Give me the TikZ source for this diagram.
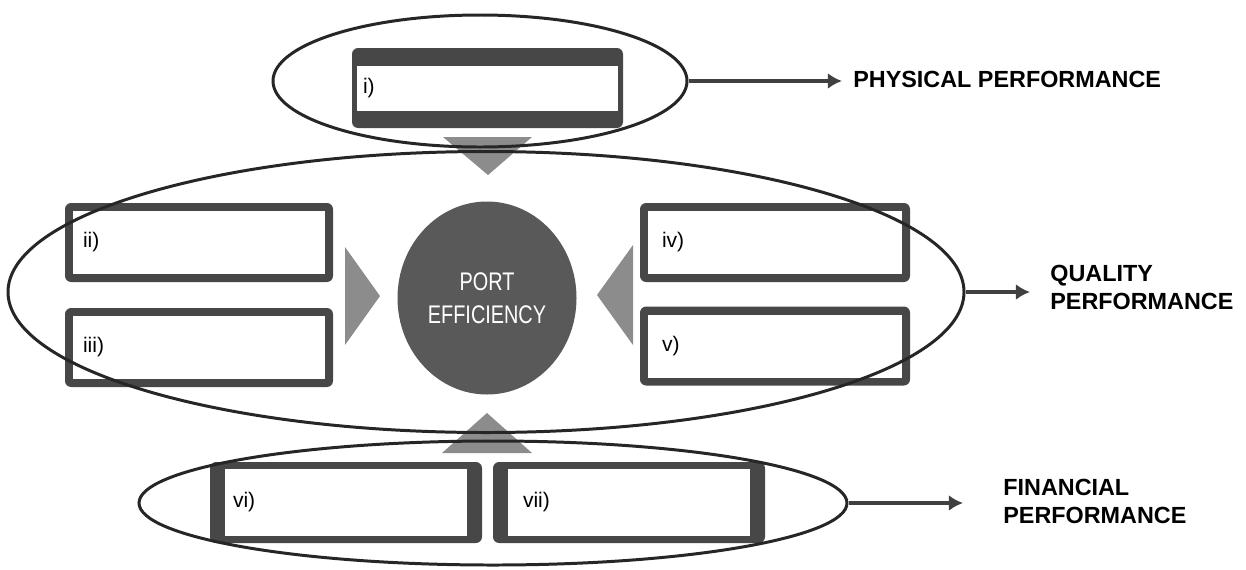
\documentclass[tikz,border=0pt]{standalone}
\usepackage{fontspec}
\setmainfont{Liberation Sans}
\newfontfamily\etroite[FakeStretch=0.78]{Liberation Sans}
\usetikzlibrary{shapes.geometric,arrows.meta}
\begin{document}
\begin{tikzpicture}[x=0.02cm,y=-0.02cm]
% Styles
\tikzstyle{contour}=[draw=black!85,line width=1.7pt,ellipse,inner sep=0pt]
\tikzstyle{fleche}=[-{Latex[length=8pt,width=9pt]},line width=1.8pt,black!75]
\tikzstyle{cadre}=[fill=black!72,rounded corners=3.5pt,inner sep=0pt]
\tikzstyle{blanc}=[fill=white,inner sep=0pt]
\tikzstyle{num}=[anchor=west,inner sep=0pt,font=\fontsize{12}{14}\selectfont]
\tikzstyle{titre}=[anchor=west,inner sep=0pt,align=left,font=\bfseries\fontsize{13.3}{16}\selectfont]
\tikzstyle{pointe}=[fill=black!45]
% Cadre de l'image
\useasboundingbox (0,0) rectangle (1246,569);
% Boite : nom, x, y, largeur, hauteur, bord x, bord y, decalage, texte
\def\boite#1#2#3#4#5#6#7#8#9{
\node[cadre,minimum width=#4*0.02cm,minimum height=#5*0.02cm] (#1c) at (#2,#3) {};
\node[blanc,minimum width=(#4-2*#6)*0.02cm,minimum height=(#5-2*#7)*0.02cm] (#1) at (#2,#3) {};
\node[num] (#1t) at ([xshift=#8*0.02cm]#1.west) {#9};
}
% Ligne du haut : i)
\boite{i}{487.5}{88}{271}{80}{5}{17.5}{6}{i)}
% Ligne du milieu : ii) a v)
\boite{ii}{199}{242.5}{268}{79}{8}{8}{10}{ii)}
\boite{iii}{199}{347.5}{268}{79}{8}{8}{10}{iii)}
\boite{iv}{775}{242.5}{270}{79}{8}{8}{14}{iv)}
\boite{v}{775}{346}{270}{79}{8}{8}{14}{v)}
% Ligne du bas : vi) et vii)
\boite{vi}{346}{502.5}{272}{81}{15}{7}{8}{vi)}
\boite{vii}{629}{502.5}{272}{81}{15}{7}{15}{vii)}
% Pointes vers le centre
\fill[pointe] (443,137) -- (532,137) -- (488,175) -- cycle;
\fill[pointe] (345,247) -- (345,345) -- (380,296) -- cycle;
\fill[pointe] (633,245) -- (633,345) -- (597,295) -- cycle;
\fill[pointe] (442,453) -- (532,453) -- (487,413) -- cycle;
% Centre
\node[ellipse,fill=black!65,inner sep=0pt,minimum width=179*0.02cm,minimum height=193*0.02cm,text=white,align=center,font=\etroite\fontsize{14.5}{18.8}\selectfont] (port) at (487,298) {PORT\\EFFICIENCY};
% Contours
\node[contour,minimum width=414*0.02cm,minimum height=132*0.02cm] (haut) at (480,81) {};
\node[contour,minimum width=956*0.02cm,minimum height=281*0.02cm] (milieu) at (486,292) {};
\node[contour,minimum width=708*0.02cm,minimum height=124*0.02cm] (bas) at (493,503) {};
% Titres
\node[titre] (physique) at (853,79) {PHYSICAL PERFORMANCE};
\node[titre] (qualite) at (1050,287) {QUALITY\\PERFORMANCE};
\node[titre] (financier) at (1003,501) {FINANCIAL\\PERFORMANCE};
% Fleches
\draw[fleche,shorten >=0.22cm] (haut.east) -- (haut.east -| physique.west);
\draw[fleche,shorten >=0.4cm] (milieu.east) -- (milieu.east -| qualite.west);
\draw[fleche,shorten >=0.8cm] (bas.east) -- (bas.east -| financier.west);
\end{tikzpicture}
\end{document}
